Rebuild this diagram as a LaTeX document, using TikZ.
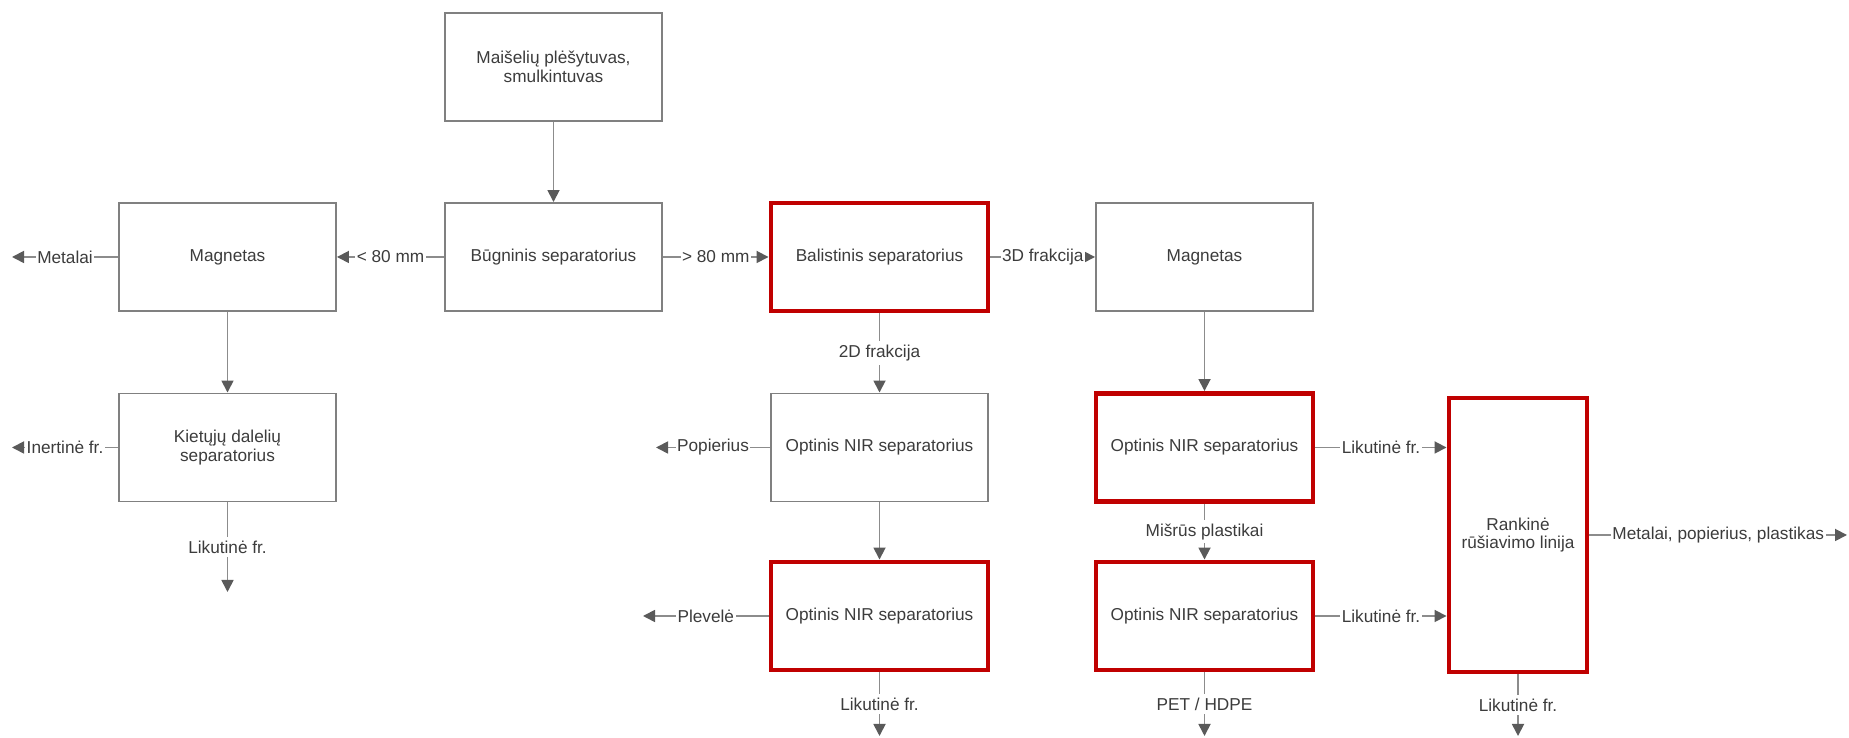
\documentclass[tikz,border=0pt]{standalone}
\usepackage{fontspec}
\setmainfont{Liberation Sans}
\definecolor{boxgray}{RGB}{128,128,128}
\definecolor{linegray}{RGB}{140,140,140}
\definecolor{tipgray}{RGB}{90,90,90}
\definecolor{keyred}{RGB}{192,0,0}
\definecolor{txtgray}{RGB}{60,60,60}
\usetikzlibrary{arrows.meta,calc}

\begin{document}
\begin{tikzpicture}[
  unit/.style={draw=boxgray, fill=white, line width=1.1pt, minimum width=4.34cm, minimum height=2.16cm, align=center, inner sep=0pt, text=txtgray, font=\fontsize{9.8}{10.6}\selectfont},
  keyunit/.style={unit, draw=keyred, line width=2.8pt},
  flow/.style={draw=linegray, line width=1pt, -{Triangle[length=0.24cm, width=0.24cm, color=tipgray]}},
  lbl/.style={fill=white, inner xsep=0.03cm, inner ysep=0.07cm, text=txtgray, font=\fontsize{9.8}{10.6}\selectfont}
]
  \useasboundingbox (0,0) rectangle (36.98,14.76);

  %% Input and drum screen
  \node[unit] (shred) at (11.07,13.42) {Maišelių plėšytuvas,\\smulkintuvas};
  \node[unit] (drum)  at (11.07,9.62)  {Būgninis separatorius};

  %% Fine fraction (< 80 mm)
  \node[unit] (magA)  at (4.55,9.62) {Magnetas};
  \node[unit] (solid) at (4.55,5.81) {Kietųjų dalelių\\separatorius};

  %% Coarse fraction (> 80 mm)
  \node[keyunit] (ballis) at (17.59,9.62) {Balistinis separatorius};
  \node[unit]    (nirA)   at (17.59,5.81) {Optinis NIR separatorius};
  \node[keyunit] (nirB)   at (17.59,2.44) {Optinis NIR separatorius};

  %% 3D fraction
  \node[unit]    (magD) at (24.09,9.62) {Magnetas};
  \node[keyunit] (nirC) at (24.09,5.81) {Optinis NIR separatorius};
  \node[keyunit] (nirD) at (24.09,2.44) {Optinis NIR separatorius};

  %% Manual sorting
  \node[keyunit, minimum width=2.76cm, minimum height=5.48cm] (manual) at (30.36,4.06) {Rankinė\\rūšiavimo linija};

  %% Free ends
  \coordinate (metOut)   at (0.24,9.62);
  \coordinate (inertOut) at (0.24,5.81);
  \coordinate (solidOut) at (4.55,2.92);
  \coordinate (paperOut) at (13.12,5.81);
  \coordinate (filmOut)  at (12.86,2.44);
  \coordinate (restB)    at (17.59,0.04);
  \coordinate (petOut)   at (24.09,0.04);
  \coordinate (restM)    at (30.36,0.04);
  \coordinate (mixOut)   at (36.94,4.06);

  %% Flows
  \draw[flow] (shred) -- (drum);
  \draw[flow] (drum.west) -- node[lbl] {< 80 mm} (magA.east);
  \draw[flow] (drum.east) -- node[lbl] {> 80 mm} (ballis.west);
  \draw[flow] (magA.west) -- node[lbl] {Metalai} (metOut);
  \draw[flow] (magA) -- (solid);
  \draw[flow] (solid.west) -- node[lbl] {Inertinė fr.} (inertOut);
  \draw[flow] (solid.south) -- node[lbl] {Likutinė fr.} (solidOut);

  \draw[flow] (ballis.east) -- node[lbl] {3D frakcija} (magD.west);
  \draw[flow] (ballis.south) -- node[lbl] {2D frakcija} (nirA.north);
  \draw[flow] (nirA.west) -- node[lbl] {Popierius} (paperOut);
  \draw[flow] (nirA) -- (nirB);
  \draw[flow] (nirB.west) -- node[lbl] {Plevelė} (filmOut);
  \draw[flow] (nirB.south) -- node[lbl] {Likutinė fr.} (restB);

  \draw[flow] (magD) -- (nirC);
  \draw[flow] (nirC.south) -- node[lbl] {Mišrūs plastikai} (nirD.north);
  \draw[flow] (nirD.south) -- node[lbl] {PET / HDPE} (petOut);
  \draw[flow] (nirC.east) -- node[lbl] {Likutinė fr.} (nirC.east -| manual.west);
  \draw[flow] (nirD.east) -- node[lbl] {Likutinė fr.} (nirD.east -| manual.west);
  \draw[flow] (manual.east) -- node[lbl] {Metalai, popierius, plastikas} (mixOut);
  \draw[flow] (manual.south) -- node[lbl] {Likutinė fr.} (restM);
\end{tikzpicture}
\end{document}
